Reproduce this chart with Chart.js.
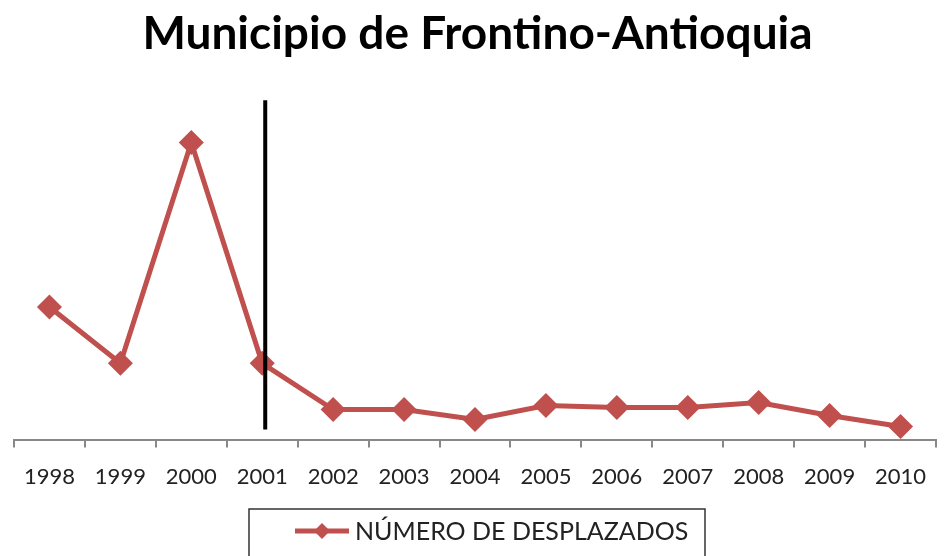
<!DOCTYPE html>
<html lang="es">
<head>
    <meta charset="UTF-8">
    <title>Municipio de Frontino-Antioquia</title>
    <style>
        html, body { margin: 0; padding: 0; background: #fff; }
        #wrap { width: 950px; height: 556px; }
    </style>
</head>
<body>
    <div id="wrap"><canvas id="myChart" width="950" height="556"></canvas></div>
    <script src="https://cdn.jsdelivr.net/npm/chart.js"></script>
    <script>
        // data (y axis has no labels, values are estimates)
        const years = ['1998', '1999', '2000', '2001', '2002', '2003', '2004', '2005', '2006', '2007', '2008', '2009', '2010'];
        const desplazados = [1320, 760, 2960, 760, 300, 300, 200, 340, 320, 320, 370, 240, 130];
        const seriesLabel = 'NÚMERO DE DESPLAZADOS';
        const markerYear = '2001';
        const markerSpan = [100, 3380];

        const red = '#c0504d';

        // vertical black marker line + boxed legend at the bottom
        const extras = {
            id: 'extras',
            afterDatasetsDraw(chart) {
                const ctx = chart.ctx;
                const xs = chart.scales.x, ys = chart.scales.y;
                const x = xs.getPixelForValue(years.indexOf(markerYear)) + 3;
                ctx.save();
                ctx.strokeStyle = '#000';
                ctx.lineWidth = 4;
                ctx.beginPath();
                ctx.moveTo(x, ys.getPixelForValue(markerSpan[1]));
                ctx.lineTo(x, ys.getPixelForValue(markerSpan[0]));
                ctx.stroke();
                ctx.restore();
            },
            afterDraw(chart) {
                const ctx = chart.ctx;
                const area = chart.chartArea;
                const cx = (area.left + area.right) / 2 + 2;
                ctx.save();
                ctx.font = '25px Lato';
                const boxW = 456, top = 509;
                const left = cx - boxW / 2;
                ctx.strokeStyle = '#333';
                ctx.lineWidth = 1.5;
                ctx.strokeRect(left, top, boxW, 60);
                const lx = left + 46, ly = top + 22;
                ctx.strokeStyle = red;
                ctx.lineWidth = 5;
                ctx.beginPath();
                ctx.moveTo(lx, ly);
                ctx.lineTo(lx + 54, ly);
                ctx.stroke();
                ctx.fillStyle = red;
                ctx.beginPath();
                ctx.moveTo(lx + 27, ly - 8);
                ctx.lineTo(lx + 35, ly);
                ctx.lineTo(lx + 27, ly + 8);
                ctx.lineTo(lx + 19, ly);
                ctx.closePath();
                ctx.fill();
                ctx.fillStyle = '#222';
                ctx.textBaseline = 'middle';
                ctx.fillText(seriesLabel, lx + 60, ly + 1);
                ctx.restore();
            }
        };

        new Chart(document.getElementById('myChart'), {
            type: 'line',
            data: {
                labels: years,
                datasets: [{
                    label: seriesLabel,
                    data: desplazados,
                    borderColor: red,
                    backgroundColor: red,
                    borderWidth: 5,
                    pointStyle: 'rectRot',
                    pointRadius: 9,
                    pointHoverRadius: 9,
                    tension: 0
                }]
            },
            options: {
                responsive: false,
                animation: false,
                layout: { padding: { left: 10, right: 5, bottom: 50 } },
                plugins: {
                    legend: { display: false },
                    tooltip: { enabled: false },
                    title: {
                        display: true,
                        text: 'Municipio de Frontino-Antioquia',
                        color: '#000',
                        font: { family: 'Lato', size: 46, weight: 'bold' },
                        padding: { top: 7, bottom: 26 }
                    }
                },
                scales: {
                    x: {
                        offset: true,
                        grid: {
                            offset: true,
                            drawOnChartArea: false,
                            drawTicks: true,
                            tickLength: 8,
                            color: '#888',
                            lineWidth: 2
                        },
                        border: { color: '#888', width: 2 },
                        ticks: {
                            color: '#222',
                            padding: 16,
                            font: { family: 'Lato', size: 22 }
                        }
                    },
                    y: {
                        display: false,
                        min: 0,
                        max: 3500
                    }
                }
            },
            plugins: [extras]
        });
    </script>
</body>
</html>
